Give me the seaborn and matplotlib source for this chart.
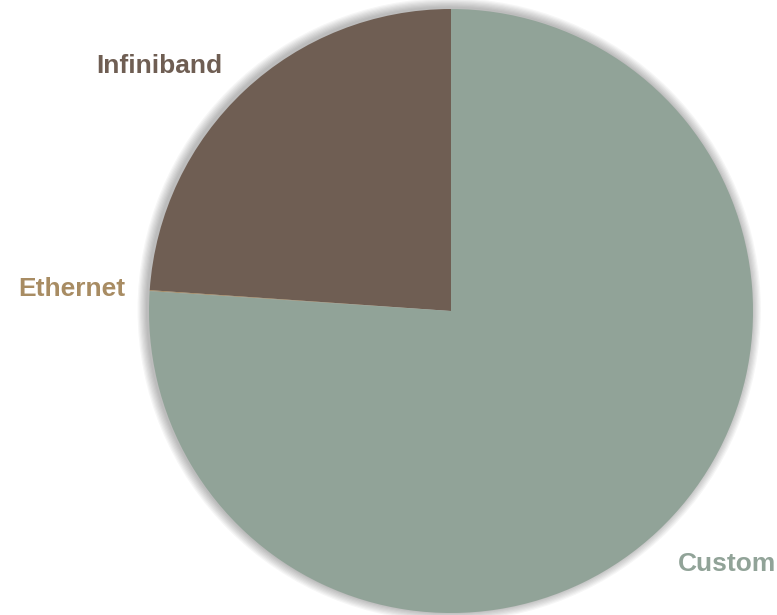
import matplotlib
matplotlib.use("Agg")
import matplotlib.pyplot as plt
import seaborn as sns
from matplotlib.patches import Circle

# data
labels = ["Infiniband", "Ethernet", "Custom"]
shares = [23.9, 0.05, 76.05]
colors = ["#6f5e53", "#a88c63", "#91a398"]

sns.set_theme(style="white")
plt.rcParams['font.family'] = ['Liberation Sans', 'DejaVu Sans']

fig = plt.figure(figsize=(7.77, 6.15), dpi=100)
ax = fig.add_axes([0, 0, 1, 1])

# soft shadow behind the pie
for i in range(8):
    r = 1.0 + 0.004 * (i + 1)
    ax.add_patch(Circle((-0.006, 0.004), r, color="#000000", alpha=0.035, lw=0, zorder=0))

wedges, texts = ax.pie(shares, labels=labels, colors=colors, startangle=90,
                       counterclock=True, labeldistance=1.11,
                       wedgeprops=dict(linewidth=0, zorder=2),
                       textprops=dict(fontsize=19, fontweight="bold"))
# nudge label positions a little per label (x factor, y factor)
nudges = [(1.0, 1.0), (0.975, 0.975), (0.99, 1.035)]
for t, c, (kx, ky) in zip(texts, colors, nudges):
    t.set_color(c)
    t.set_zorder(3)
    x, y = t.get_position()
    t.set_position((x * kx, y * ky))

ax.set_aspect("auto")
ax.set_xlim(-451 / 302, (777 - 451) / 302)
ax.set_ylim(-304 / 302, 311 / 302)
ax.axis("off")

fig.savefig("out.png", dpi=100)
